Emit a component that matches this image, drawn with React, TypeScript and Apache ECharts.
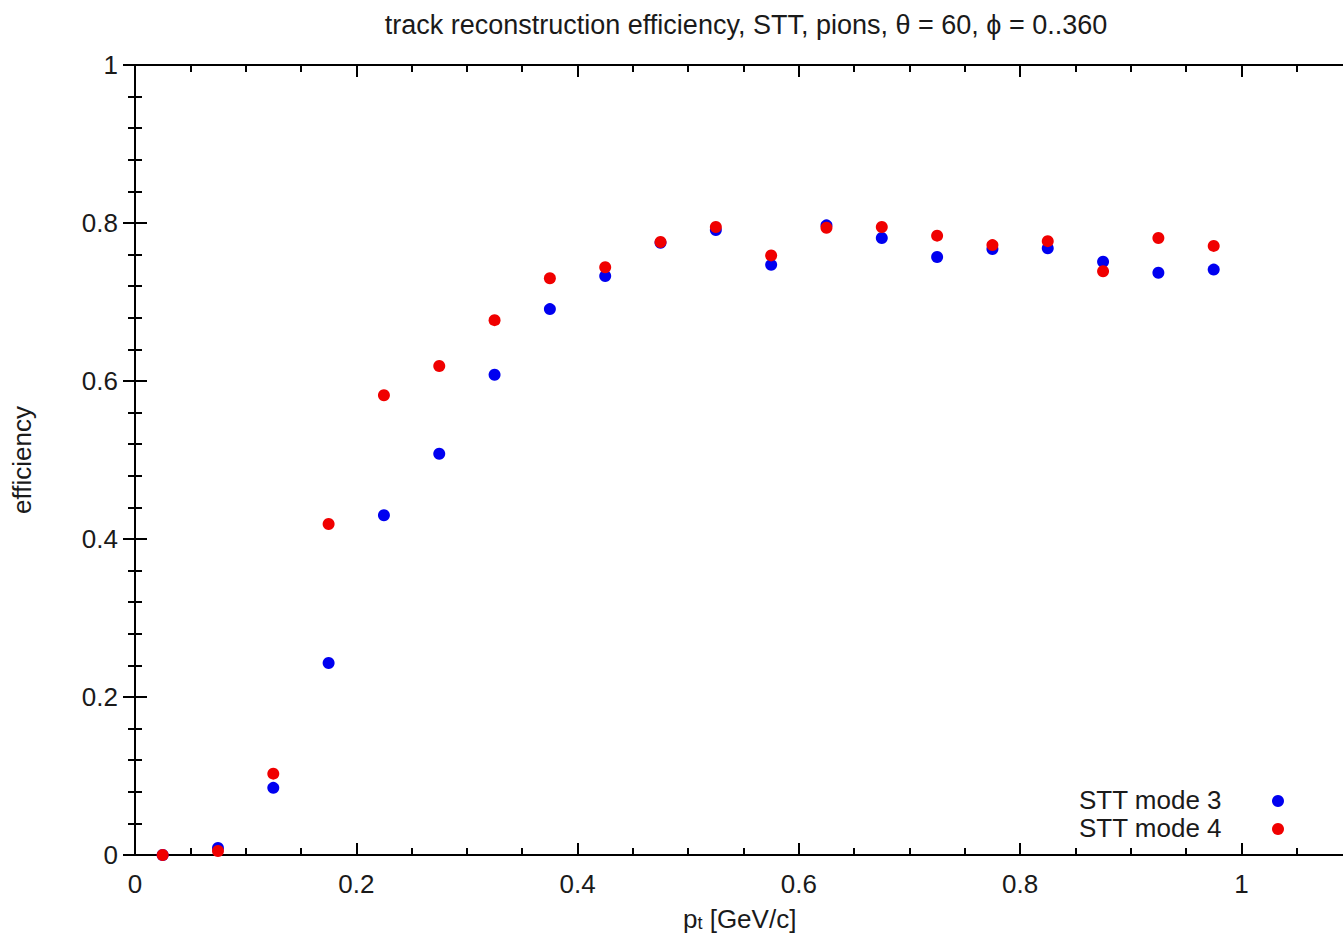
import React, { useEffect, useRef } from "react";
import * as echarts from "echarts";

const ptValues = [0.025, 0.075, 0.125, 0.175, 0.225, 0.275, 0.325, 0.375, 0.425, 0.475, 0.525, 0.575, 0.625, 0.675, 0.725, 0.775, 0.825, 0.875, 0.925, 0.975];
const mode3 = [0.0, 0.009, 0.085, 0.243, 0.430, 0.508, 0.608, 0.691, 0.733, 0.775, 0.791, 0.747, 0.797, 0.781, 0.757, 0.767, 0.768, 0.751, 0.737, 0.741];
const mode4 = [0.0, 0.005, 0.103, 0.419, 0.582, 0.619, 0.677, 0.730, 0.744, 0.776, 0.795, 0.759, 0.794, 0.795, 0.784, 0.772, 0.777, 0.739, 0.781, 0.771];
const seriesNames = ["STT mode 3", "STT mode 4"];
const seriesColors = ["#0000f0", "#f00000"];
const titleText = "track reconstruction efficiency, STT, pions, \u03b8 = 60, \u03d5 = 0..360";

const FONT = "Liberation Sans, Arial, Helvetica, sans-serif";
const FS = 26;
const TXT = "#1a1a1a";

export default function App() {
  const ref = useRef<HTMLDivElement>(null);
  useEffect(() => {
    if (!ref.current) return;
    const chart = echarts.init(ref.current, undefined, { renderer: "svg" });
    const axisLine = { show: true, lineStyle: { color: "#000", width: 2 } };
    const majorX = (pos: "bottom" | "top", labels: boolean) => ({
      type: "value",
      position: pos,
      min: 0,
      max: 1.1,
      interval: 0.2,
      axisLine,
      axisTick: { show: true, inside: true, length: 12, lineStyle: { color: "#000", width: 2 } },
      axisLabel: {
        show: labels,
        showMaxLabel: false,
        margin: 16,
        color: TXT,
        fontSize: FS,
        fontFamily: FONT,
        formatter: (v: number) => String(Math.round(v * 10) / 10),
      },
      splitLine: { show: false },
    });
    const minorX = (pos: "bottom" | "top") => ({
      type: "value",
      position: pos,
      min: 0,
      max: 1.1,
      interval: 0.05,
      axisLine: { show: false },
      axisTick: { show: true, inside: true, length: 7, lineStyle: { color: "#000", width: 2 } },
      axisLabel: { show: false },
      splitLine: { show: false },
    });
    const yAx = (pos: "left" | "right", labels: boolean) => ({
      type: "value",
      position: pos,
      min: 0,
      max: 1,
      interval: 0.2,
      axisLine,
      axisTick: { show: true, inside: true, length: 12, lineStyle: { color: "#000", width: 2 } },
      minorTick: { show: true, splitNumber: 5, length: 7, lineStyle: { color: "#000", width: 2 } },
      axisLabel: {
        show: labels,
        margin: 17,
        color: TXT,
        fontSize: FS,
        fontFamily: FONT,
        formatter: (v: number) => String(Math.round(v * 10) / 10),
      },
      splitLine: { show: false },
      name: labels ? "efficiency" : "",
      nameLocation: "middle",
      nameRotate: 90,
      nameGap: 100,
      nameTextStyle: { color: TXT, fontSize: FS, fontFamily: FONT },
    });
    chart.setOption({
      animation: false,
      backgroundColor: "#fff",
      title: {
        text: titleText,
        left: 741,
        top: 6,
        textAlign: "center",
        textStyle: { color: TXT, fontSize: 27, fontWeight: "normal", fontFamily: FONT },
      },
      grid: { left: 135, top: 65, width: 1217, height: 790, containLabel: false },
      xAxis: [majorX("bottom", true), minorX("bottom"), majorX("top", false), minorX("top")],
      yAxis: [yAx("left", true), yAx("right", false)],
      graphic: [
        {
          type: "text",
          left: 683,
          top: 902,
          style: {
            text: "{a|p}{s|t}{a| [GeV/c]}",
            rich: {
              a: { fontSize: FS, fontFamily: FONT, fill: TXT, verticalAlign: "bottom", lineHeight: 32 },
              s: { fontSize: 18, fontFamily: FONT, fill: TXT, verticalAlign: "bottom", lineHeight: 32, padding: [12, 0, 0, 0] },
            },
          },
        },
        ...seriesNames.map((n, i) => ({
          type: "text",
          right: 1360 - 1222,
          top: 787 + i * 28,
          style: { text: n, fontSize: FS, fontFamily: FONT, fill: TXT },
        })),
        ...seriesColors.map((c, i) => ({
          type: "circle",
          shape: { cx: 1278, cy: 801 + i * 28, r: 6 },
          style: { fill: c },
        })),
      ],
      series: [mode3, mode4].map((vals, i) => ({
        type: "scatter",
        name: seriesNames[i],
        xAxisIndex: 0,
        yAxisIndex: 0,
        symbol: "circle",
        symbolSize: 12,
        itemStyle: { color: seriesColors[i], opacity: 1 },
        data: vals.map((v, j) => [ptValues[j], v]),
        z: 2 + i,
      })),
    });
    return () => chart.dispose();
  }, []);
  return (
    <div
      ref={ref}
      style={{ position: "fixed", left: 0, top: 0, width: 1360, height: 939, background: "#fff" }}
    />
  );
}
